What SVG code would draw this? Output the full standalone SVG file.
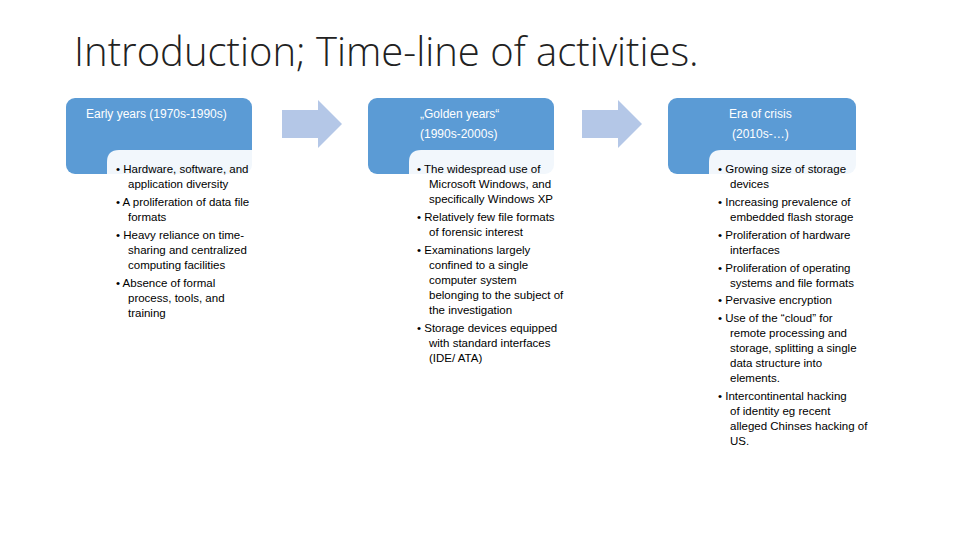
<svg xmlns="http://www.w3.org/2000/svg" width="960" height="540" viewBox="0 0 960 540">
<style>
.hd{fill:#5b9bd5}
.in{fill:#ffffff;fill-opacity:0.92}
.ar{fill:#b4c7e7}
.ht{font-family:"Liberation Sans",Arial,sans-serif;font-size:12px;fill:#ffffff}
.bt{font-family:"Liberation Sans",Arial,sans-serif;font-size:11.5px;fill:#000}
.ti{font-family:"Open Sans","Liberation Sans",sans-serif;font-weight:300;font-size:40px;fill:#222}
</style>
<rect width="960" height="540" fill="#fff"/>
<text class="ti" x="74" y="66">Introduction; Time-line of activities.</text>
<g id="connectors">
<polygon class="ar" points="282,110 318,110 318,100 342,124 318,148 318,138 282,138"/>
<polygon class="ar" points="582,110 618,110 618,100 642,124 618,148 618,138 582,138"/>
</g>
<g id="node1">
<rect class="hd" x="66" y="98" width="186" height="76" rx="9"/>
<path class="in" d="M107,174 V162 Q107,150 119,150 H252 V174 Z"/>
<text class="ht" x="86" y="118">Early years (1970s-1990s)</text>
<text class="bt"><tspan x="116" y="173">• Hardware, software, and</tspan><tspan x="128" y="188">application diversity</tspan><tspan x="116" y="206">• A proliferation of data file</tspan><tspan x="128" y="221">formats</tspan><tspan x="116" y="239">• Heavy reliance on time-</tspan><tspan x="128" y="254">sharing and centralized</tspan><tspan x="128" y="269">computing facilities</tspan><tspan x="116" y="287">• Absence of formal</tspan><tspan x="128" y="302">process, tools, and</tspan><tspan x="128" y="317">training</tspan></text>
</g>
<g id="node2">
<rect class="hd" x="368" y="98" width="186" height="76" rx="9"/>
<path class="in" d="M409,174 V162 Q409,150 421,150 H554 V174 Z"/>
<text class="ht"><tspan x="420" y="118">„Golden years“</tspan><tspan x="420" y="138">(1990s-2000s)</tspan></text>
<text class="bt"><tspan x="417" y="173">• The widespread use of</tspan><tspan x="429" y="188">Microsoft Windows, and</tspan><tspan x="429" y="203">specifically Windows XP</tspan><tspan x="417" y="221">• Relatively few file formats</tspan><tspan x="429" y="236">of forensic interest</tspan><tspan x="417" y="254">• Examinations largely</tspan><tspan x="429" y="269">confined to a single</tspan><tspan x="429" y="284">computer system</tspan><tspan x="429" y="299">belonging to the subject of</tspan><tspan x="429" y="314">the investigation</tspan><tspan x="417" y="332">• Storage devices equipped</tspan><tspan x="429" y="347">with standard interfaces</tspan><tspan x="429" y="362">(IDE/ ATA)</tspan></text>
</g>
<g id="node3">
<rect class="hd" x="668" y="98" width="188" height="76" rx="9"/>
<path class="in" d="M709,174 V162 Q709,150 721,150 H856 V174 Z"/>
<text class="ht"><tspan x="729" y="118">Era of crisis</tspan><tspan x="732" y="138">(2010s-…)</tspan></text>
<text class="bt"><tspan x="718" y="173">• Growing size of storage</tspan><tspan x="730" y="188">devices</tspan><tspan x="718" y="206">• Increasing prevalence of</tspan><tspan x="730" y="221">embedded flash storage</tspan><tspan x="718" y="239">• Proliferation of hardware</tspan><tspan x="730" y="254">interfaces</tspan><tspan x="718" y="272">• Proliferation of operating</tspan><tspan x="730" y="287">systems and file formats</tspan><tspan x="718" y="304">• Pervasive encryption</tspan><tspan x="718" y="322">• Use of the “cloud” for</tspan><tspan x="730" y="337">remote processing and</tspan><tspan x="730" y="352">storage, splitting a single</tspan><tspan x="730" y="367">data structure into</tspan><tspan x="730" y="382">elements.</tspan><tspan x="718" y="400">• Intercontinental hacking</tspan><tspan x="730" y="415">of identity eg recent</tspan><tspan x="730" y="430">alleged Chinses hacking of</tspan><tspan x="730" y="445">US.</tspan></text>
</g>
</svg>
